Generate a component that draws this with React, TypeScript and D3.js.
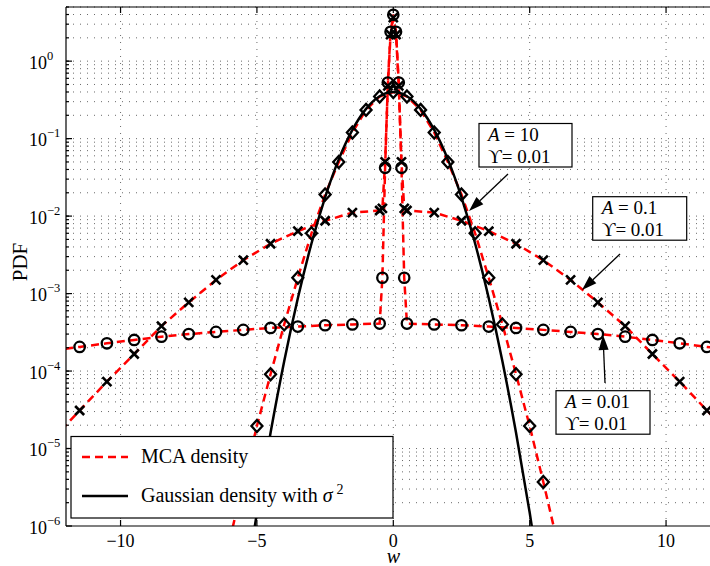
import React from "react";
import * as d3 from "d3";

const W = 710;
const H = 566;
const plot = { left: 66, top: 7, right: 720.6, bottom: 526 };

const xTicks = [-10, -5, 0, 5, 10];
const xTickLabels = ["\u221210", "\u22125", "0", "5", "10"];
const decades = [-6, -5, -4, -3, -2, -1, 0];
const decadeLabels = ["\u22126", "\u22125", "\u22124", "\u22123", "\u22122", "\u22121", "0"];

// grid used by the two impulsive curves (A = 0.01 and A = 0.1)
const wImp = [
  -12.5, -11.5, -10.5, -9.5, -8.5, -7.5, -6.5, -5.5, -4.5, -3.5, -2.5, -1.5, -0.5, -0.4, -0.3, -0.2,
  -0.1, 0, 0.1, 0.2, 0.3, 0.4, 0.5, 1.5, 2.5, 3.5, 4.5, 5.5, 6.5, 7.5, 8.5, 9.5, 10.5, 11.5, 12.5,
];
// A = 0.01, circles
const pA001 = [
  1.85e-4, 2.05e-4, 2.28e-4, 2.52e-4, 2.78e-4, 3.0e-4, 3.2e-4, 3.4e-4, 3.6e-4, 3.75e-4, 3.9e-4, 4.0e-4,
  4.1e-4, 1.6e-3, 0.042, 0.53, 2.39, 3.97, 2.39, 0.53, 0.042, 1.6e-3, 4.1e-4, 4.0e-4, 3.9e-4, 3.75e-4,
  3.6e-4, 3.4e-4, 3.2e-4, 3.0e-4, 2.78e-4, 2.52e-4, 2.28e-4, 2.05e-4, 1.85e-4,
];
// A = 0.1, crosses
const pA01 = [
  1.3e-5, 3.1e-5, 7.3e-5, 1.66e-4, 3.8e-4, 7.7e-4, 1.5e-3, 2.7e-3, 4.4e-3, 6.4e-3, 8.7e-3, 0.0111,
  0.0118, 0.0126, 0.05, 0.48, 2.2, 3.64, 2.2, 0.48, 0.05, 0.0126, 0.0118, 0.0111, 8.7e-3, 6.4e-3,
  4.4e-3, 2.7e-3, 1.5e-3, 7.7e-4, 3.8e-4, 1.66e-4, 7.3e-5, 3.1e-5, 1.3e-5,
];
// A = 10, diamonds
const wA10 = [-6, -5.5, -5, -4.5, -4, -3.5, -3, -2.5, -2, -1.5, -1, -0.5, 0, 0.5, 1, 1.5, 2, 2.5, 3, 3.5, 4, 4.5, 5, 5.5, 6];
const pA10 = [
  6.5e-7, 3.7e-6, 1.95e-5, 9.1e-5, 4.0e-4, 1.6e-3, 6.0e-3, 0.019, 0.05, 0.12, 0.235, 0.35, 0.4, 0.35,
  0.235, 0.12, 0.05, 0.019, 6.0e-3, 1.6e-3, 4.0e-4, 9.1e-5, 1.95e-5, 3.7e-6, 6.5e-7,
];
// Gaussian reference
const wGauss = [-5.5, -5, -4.5, -4, -3.5, -3, -2.5, -2, -1.5, -1, -0.5, 0, 0.5, 1, 1.5, 2, 2.5, 3, 3.5, 4, 4.5, 5, 5.5];
const pGauss = [
  1.08e-7, 1.49e-6, 1.6e-5, 1.34e-4, 8.7e-4, 4.43e-3, 0.0175, 0.054, 0.1295, 0.242, 0.352, 0.399, 0.352,
  0.242, 0.1295, 0.054, 0.0175, 4.43e-3, 8.7e-4, 1.34e-4, 1.6e-5, 1.49e-6, 1.08e-7,
];

const font = "'Liberation Serif', 'DejaVu Serif', serif";
const red = "#ff0000";

const x = d3.scaleLinear().domain([-12, 12]).range([plot.left, plot.right]);
const y = d3.scaleLog().domain([1e-6, 5]).range([plot.bottom, plot.top]);

const line = d3
  .line<[number, number]>()
  .x((d) => x(d[0]))
  .y((d) => y(d[1]));
const smooth = d3
  .line<[number, number]>()
  .x((d) => x(d[0]))
  .y((d) => y(d[1]))
  .curve(d3.curveMonotoneX);

const zip = (ws: number[], ps: number[]) => ws.map((w, i) => [w, ps[i]] as [number, number]);

const Circle = ({ cx, cy }) => <circle cx={cx} cy={cy} r={5.2} fill="none" stroke="#000" strokeWidth={2.3} />;
const Cross = ({ cx, cy }) => (
  <path d={`M${cx - 4.5},${cy - 4.5}L${cx + 4.5},${cy + 4.5}M${cx - 4.5},${cy + 4.5}L${cx + 4.5},${cy - 4.5}`} stroke="#000" strokeWidth={2.6} />
);
const Diamond = ({ cx, cy }) => (
  <path d={`M${cx},${cy - 6}L${cx + 5.5},${cy}L${cx},${cy + 6}L${cx - 5.5},${cy}Z`} fill="none" stroke="#000" strokeWidth={2.3} />
);

const Arrow = ({ x1, y1, x2, y2 }) => {
  const a = Math.atan2(y2 - y1, x2 - x1);
  const len = 15;
  const hw = 5;
  const bx = x2 - len * Math.cos(a);
  const by = y2 - len * Math.sin(a);
  const px = -Math.sin(a) * hw;
  const py = Math.cos(a) * hw;
  return (
    <g>
      <line x1={x1} y1={y1} x2={bx} y2={by} stroke="#000" strokeWidth={1.3} />
      <path d={`M${x2},${y2}L${bx + px},${by + py}L${bx - px},${by - py}Z`} fill="#000" />
    </g>
  );
};

const Note = ({ x0, y0, w, h, a }) => (
  <g>
    <rect x={x0} y={y0} width={w} height={h} fill="#fff" stroke="#000" strokeWidth={1.2} />
    <text x={x0 + 9} y={y0 + 17.5} fontFamily={font} fontSize={19}>
      <tspan fontStyle="italic">A</tspan>
      <tspan> = {a}</tspan>
    </text>
    <text x={x0 + 9} y={y0 + 39.5} fontFamily={font} fontSize={19}>
      {"\u03d2= 0.01"}
    </text>
  </g>
);

export default function App() {
  const minor: number[] = [];
  decades.forEach((e) => {
    for (let k = 1; k < 10; k++) {
      const v = k * Math.pow(10, e);
      if (v <= 5 && v > 1e-6) minor.push(v);
    }
  });

  const s001 = zip(wImp, pA001);
  const s01 = zip(wImp, pA01);
  const s10 = zip(wA10, pA10);
  const sG = zip(wGauss, pGauss);

  const inside = (d: [number, number]) => d[0] >= -12.3 && d[0] <= 12.3 && d[1] >= 1e-6;

  return (
    <svg width={W} height={H} style={{ position: "absolute", left: 0, top: 0, background: "#fff" }}>
      <defs>
        <clipPath id="clip">
          <rect x={plot.left} y={plot.top} width={plot.right - plot.left} height={plot.bottom - plot.top} />
        </clipPath>
      </defs>
      <rect width={W} height={H} fill="#fff" />

      {/* grid */}
      <g stroke="#222" strokeWidth={0.9} strokeDasharray="1 6" opacity={0.75}>
        {minor.map((v, i) => (
          <line key={i} x1={plot.left} x2={plot.right} y1={y(v)} y2={y(v)} />
        ))}
        {xTicks.map((t) => (
          <line key={t} x1={x(t)} x2={x(t)} y1={plot.top} y2={plot.bottom} />
        ))}
      </g>

      {/* series */}
      <g clipPath="url(#clip)">
        <path d={line(s001)!} fill="none" stroke={red} strokeWidth={2.5} strokeDasharray="8 5" />
        <path d={line(s01)!} fill="none" stroke={red} strokeWidth={2.5} strokeDasharray="8 5" />
        <path d={line(s10)!} fill="none" stroke={red} strokeWidth={2.5} strokeDasharray="8 5" />
        {s001.filter(inside).map((d, i) => (
          <Circle key={"c" + i} cx={x(d[0])} cy={y(d[1])} />
        ))}
        {s01.filter(inside).map((d, i) => (
          <Cross key={"x" + i} cx={x(d[0])} cy={y(d[1])} />
        ))}
        {s10.filter(inside).map((d, i) => (
          <Diamond key={"d" + i} cx={x(d[0])} cy={y(d[1])} />
        ))}
        <path d={smooth(sG)!} fill="none" stroke="#000" strokeWidth={2.5} />
      </g>

      {/* axes box */}
      <g stroke="#000" strokeWidth={1.2} fill="none">
        <line x1={plot.left} x2={plot.right} y1={plot.top} y2={plot.top} />
        <line x1={plot.left} x2={plot.right} y1={plot.bottom} y2={plot.bottom} />
        <line x1={plot.left} x2={plot.left} y1={plot.top} y2={plot.bottom} />
        {decades.map((e) => (
          <line key={e} x1={plot.left} x2={plot.left + 6} y1={y(Math.pow(10, e))} y2={y(Math.pow(10, e))} />
        ))}
        {minor.map((v, i) => (
          <line key={i} x1={plot.left} x2={plot.left + 3} y1={y(v)} y2={y(v)} />
        ))}
        {xTicks.map((t) => (
          <g key={t}>
            <line x1={x(t)} x2={x(t)} y1={plot.bottom} y2={plot.bottom - 6} />
            <line x1={x(t)} x2={x(t)} y1={plot.top} y2={plot.top + 6} />
          </g>
        ))}
      </g>

      {/* tick labels */}
      <g fontFamily={font} fontSize={18} fill="#000">
        {xTicks.map((t, i) => (
          <text key={t} x={x(t)} y={547} textAnchor="middle">
            {xTickLabels[i]}
          </text>
        ))}
        {decades.map((e, i) => (
          <text key={e} x={29} y={y(Math.pow(10, e)) + 7.5}>
            10
            <tspan dy={-9} fontSize={12.5}>
              {decadeLabels[i]}
            </tspan>
          </text>
        ))}
      </g>

      <text transform="translate(27,262) rotate(-90)" textAnchor="middle" fontFamily={font} fontSize={21}>
        PDF
      </text>
      <text x={x(0)} y={563} textAnchor="middle" fontFamily={font} fontSize={20} fontStyle="italic">
        w
      </text>

      {/* annotations */}
      <Note x0={479} y0={123.5} w={93} h={43.5} a="10" />
      <Arrow x1={508} y1={174} x2={469} y2={211} />
      <Note x0={592.7} y0={196.7} w={94} h={43.5} a="0.1" />
      <Arrow x1={620} y1={254} x2={582} y2={290} />
      <Note x0={556} y0={390.7} w={94} h={43.5} a="0.01" />
      <Arrow x1={605} y1={383} x2={603} y2={335} />

      {/* legend */}
      <g>
        <rect x={71} y={436.5} width={322} height={81.5} fill="#fff" stroke="#000" strokeWidth={1.2} />
        <line x1={82} x2={128} y1={457} y2={457} stroke={red} strokeWidth={2.5} strokeDasharray="8 5" />
        <text x={141} y={463} fontFamily={font} fontSize={20}>
          MCA density
        </text>
        <line x1={82} x2={128} y1={496} y2={496} stroke="#000" strokeWidth={2.5} />
        <text x={141} y={502} fontFamily={font} fontSize={20}>
          Gaussian density with <tspan fontStyle="italic">{"\u03c3"}</tspan>
          <tspan dx={4} dy={-8} fontSize={14}>
            2
          </tspan>
        </text>
      </g>
    </svg>
  );
}
